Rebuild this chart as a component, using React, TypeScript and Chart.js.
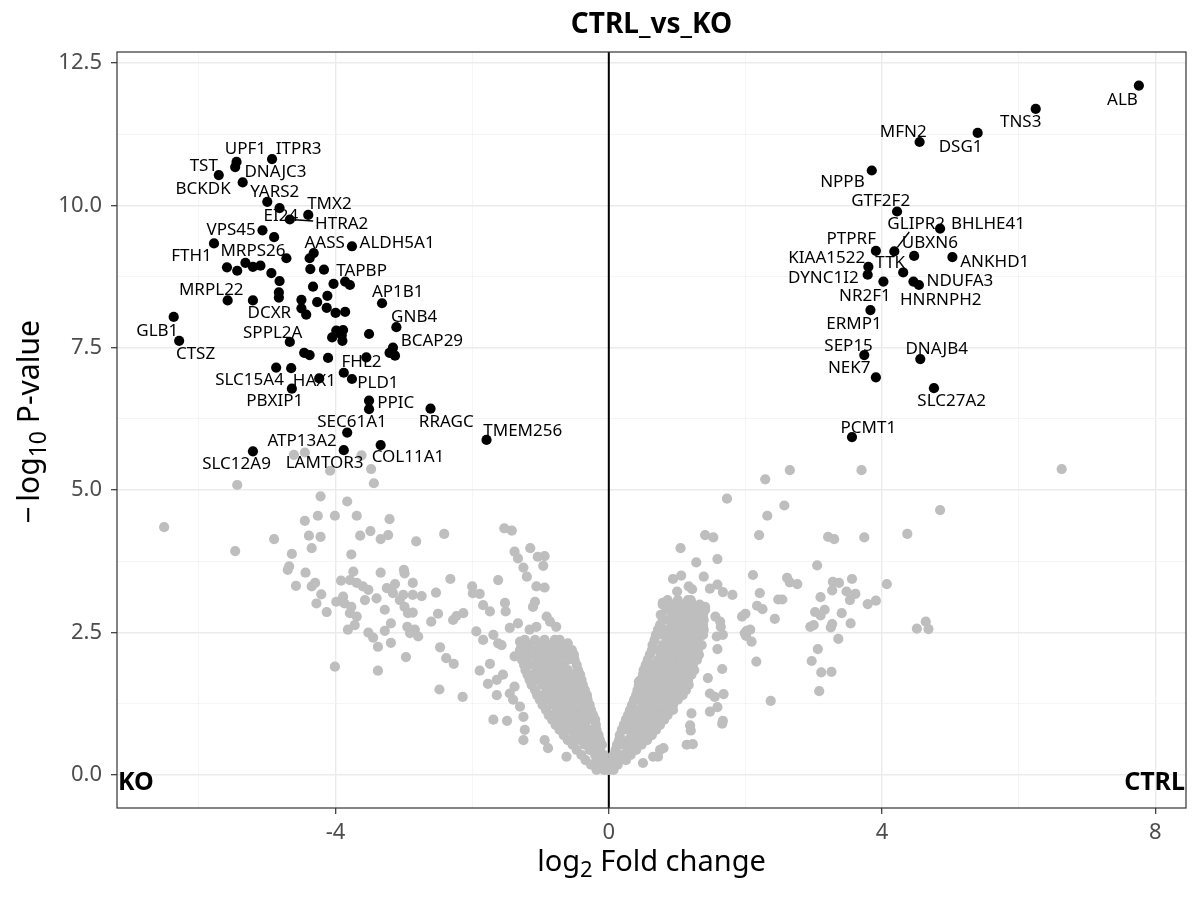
import React, { useEffect, useRef } from 'react';
import { Chart, registerables } from 'chart.js';

Chart.register(...registerables);

// ---------------- data ----------------
const plotTitle = 'CTRL_vs_KO';
const groupLeft = 'KO';
const groupRight = 'CTRL';
const xTickValues = [-4, 0, 4, 8];
const yTickValues = [0, 2.5, 5, 7.5, 10, 12.5];

// significant, labelled genes
const sigGene = [
  'ITPR3', 'UPF1', 'DNAJC3', 'TST', 'BCKDK', 'YARS2', 'EI24', 'HTRA2', 'TMX2', 'VPS45',
  'FTH1', 'MRPS26', 'ALDH5A1', 'AASS', 'TAPBP', 'MRPL22', 'DCXR', 'AP1B1', 'GLB1', 'GNB4',
  'SPPL2A', 'BCAP29', 'FHL2', 'CTSZ', 'SLC15A4', 'HAX1', 'PLD1', 'PBXIP1', 'PPIC', 'SEC61A1',
  'ATP13A2', 'LAMTOR3', 'SLC12A9', 'COL11A1', 'RRAGC', 'TMEM256',
  'ALB', 'TNS3', 'DSG1', 'MFN2', 'NPPB', 'GTF2F2', 'BHLHE41', 'GLIPR2', 'PTPRF', 'UBXN6',
  'ANKHD1', 'KIAA1522', 'DYNC1I2', 'TTK', 'NR2F1', 'NDUFA3', 'HNRNPH2', 'ERMP1', 'SEP15', 'NEK7',
  'DNAJB4', 'SLC27A2', 'PCMT1',
];
const sigLog2FC = [
  -4.93, -5.45, -5.47, -5.71, -5.36, -5.0, -4.82, -4.67, -4.4, -5.07,
  -5.78, -4.72, -3.76, -4.32, -4.17, -5.58, -4.5, -3.32, -6.37, -3.11,
  -4.67, -3.13, -3.55, -6.29, -4.87, -4.24, -3.76, -4.64, -3.51, -3.51,
  -3.83, -3.88, -5.21, -3.34, -2.61, -1.79,
  7.76, 6.25, 5.4, 4.55, 3.85, 4.22, 4.85, 4.18, 3.91, 4.47,
  5.03, 3.8, 3.79, 4.31, 4.02, 4.46, 4.54, 3.83, 3.74, 3.91,
  4.56, 4.76, 3.56,
];
const sigNegLog10P = [
  10.81, 10.76, 10.67, 10.53, 10.4, 10.06, 9.95, 9.75, 9.83, 9.56,
  9.33, 9.07, 9.28, 9.16, 8.87, 8.33, 8.19, 8.28, 8.04, 7.86,
  7.6, 7.36, 7.33, 7.62, 7.15, 6.96, 6.95, 6.78, 6.57, 6.42,
  6.01, 5.7, 5.68, 5.79, 6.43, 5.88,
  12.1, 11.69, 11.27, 11.11, 10.61, 9.89, 9.59, 9.19, 9.2, 9.11,
  9.09, 8.92, 8.78, 8.82, 8.66, 8.66, 8.6, 8.16, 7.37, 6.98,
  7.3, 6.79, 5.93,
];

// significant genes without a label
const sigOtherLog2FC = [
  -4.9, -4.38, -5.59, -5.44, -5.32, -5.21, -5.1, -4.94, -4.82, -4.37,
  -4.33, -4.03, -3.86, -3.79, -4.83, -4.83, -5.21, -4.5, -4.12, -4.27,
  -4.43, -4.13, -4.0, -3.86, -3.51, -3.99, -3.89, -4.05, -3.91, -3.9,
  -3.16, -3.21, -4.46, -4.38, -4.11, -4.65, -3.88,
];
const sigOtherNegLog10P = [
  9.44, 9.07, 8.91, 8.85, 8.99, 8.92, 8.94, 8.81, 8.67, 8.88,
  8.57, 8.62, 8.66, 8.6, 8.47, 8.38, 8.33, 8.34, 8.41, 8.3,
  8.08, 8.2, 8.11, 8.13, 7.74, 7.8, 7.81, 7.68, 7.72, 7.62,
  7.5, 7.41, 7.41, 7.37, 7.32, 7.14, 7.06,
];

// repelled label anchor (same order as sigGene)
const labelLog2FC = [
  -4.54, -5.32, -4.88, -5.93, -5.94, -4.89, -4.8, -3.91, -4.09, -5.53,
  -6.11, -5.21, -3.1, -4.16, -3.62, -5.82, -4.97, -3.09, -6.61, -2.85,
  -4.92, -2.59, -3.62, -6.05, -5.26, -4.31, -3.38, -4.89, -3.12, -3.76,
  -4.49, -4.16, -5.45, -2.94, -2.38, -1.26,
  7.52, 6.03, 5.15, 4.31, 3.42, 3.98, 5.55, 4.5, 3.55, 4.7,
  5.65, 3.19, 3.14, 4.12, 3.75, 5.14, 4.86, 3.59, 3.51, 3.52,
  4.8, 5.02, 3.8,
];
const labelNegLog10P = [
  11.01, 11.01, 10.6, 10.71, 10.3, 10.25, 9.83, 9.69, 10.04, 9.59,
  9.12, 9.22, 9.35, 9.35, 8.87, 8.53, 8.13, 8.49, 7.82, 8.05,
  7.78, 7.64, 7.26, 7.4, 6.95, 6.93, 6.89, 6.58, 6.55, 6.22,
  5.88, 5.49, 5.48, 5.6, 6.22, 6.06,
  11.87, 11.48, 11.04, 11.31, 10.42, 10.09, 9.69, 9.69, 9.42, 9.35,
  9.03, 9.09, 8.75, 9.01, 8.43, 8.69, 8.35, 7.94, 7.55, 7.17,
  7.49, 6.58, 6.11,
];
const labelWithSegment = ['HTRA2', 'GLIPR2'];

// non-significant genes: scattered ones [log2FC, -log10 P]
const nsScatter: [number, number][] = [
  [-6.51, 4.35], [-5.44, 5.09], [-5.47, 3.93], [-4.9, 4.14], [-4.61, 5.62], [-4.45, 5.66], [-4.08, 5.34], [-3.62, 5.61], [-3.48, 5.37], [-3.44, 5.12],
  [-4.22, 4.89], [-3.83, 4.8], [-4.45, 4.46], [-4.26, 4.55], [-4.01, 4.55], [-3.69, 4.55], [-3.21, 4.49], [-3.49, 4.28], [-3.64, 4.2], [-3.34, 4.14],
  [-3.23, 4.21], [-2.82, 4.1], [-2.41, 4.23], [-1.53, 4.33], [-1.42, 4.29], [-4.39, 4.2], [-4.22, 4.18], [-4.35, 3.98], [-4.64, 3.88], [-3.77, 3.87],
  [-4.68, 3.66], [-4.7, 3.6], [-4.44, 3.55], [-4.58, 3.32], [-4.35, 3.31], [-4.3, 3.37], [-4.21, 3.17], [-4.28, 3.01], [-4.13, 2.86], [-3.74, 3.57],
  [-3.92, 3.41], [-3.79, 3.42], [-3.69, 3.37], [-3.34, 3.55], [-3.0, 3.6], [-2.99, 3.54], [-2.32, 3.44], [-1.62, 3.42], [-1.38, 3.92], [-1.33, 3.8],
  [-1.25, 3.64], [-1.2, 3.48], [-1.15, 3.98], [-1.04, 3.83], [-0.94, 3.84], [-0.96, 3.67], [-1.06, 3.31], [-0.94, 3.29], [-3.6, 3.31], [-3.52, 3.25],
  [-3.57, 3.07], [-3.4, 3.1], [-3.25, 3.28], [-3.13, 3.35], [-3.16, 3.19], [-3.28, 2.9], [-3.99, 3.04], [-3.89, 3.13], [-3.87, 3.01], [-3.77, 2.95],
  [-3.79, 2.84], [-3.69, 2.78], [-3.82, 2.55], [-3.72, 2.63], [-3.01, 3.16], [-3.06, 3.07], [-2.99, 2.95], [-2.94, 2.84], [-2.87, 2.85], [-2.87, 3.16],
  [-2.74, 3.14], [-2.87, 3.37], [-2.53, 3.2], [-2.5, 2.83], [-2.6, 2.69], [-2.28, 2.72], [-2.13, 2.84], [-2.23, 2.79], [-2.0, 3.31], [-1.99, 3.19],
  [-1.89, 3.18], [-1.84, 2.98], [-1.74, 2.87], [-1.52, 3.02], [-1.51, 2.87], [-1.08, 3.04], [-1.11, 2.95], [-3.19, 2.66], [-3.28, 2.53], [-3.19, 2.32],
  [-3.52, 2.5], [-3.45, 2.41], [-3.38, 2.25], [-2.95, 2.6], [-2.91, 2.49], [-2.84, 2.55], [-2.79, 2.43], [-2.47, 2.24], [-2.38, 2.05], [-2.27, 1.95],
  [-1.94, 2.52], [-1.84, 2.37], [-1.69, 2.46], [-1.62, 2.31], [-1.45, 2.58], [-1.33, 2.66], [-1.3, 2.34], [-1.16, 2.55], [-1.06, 2.6], [-0.91, 2.78],
  [-0.86, 2.69], [-0.77, 2.6], [-0.6, 2.31], [-0.55, 2.11], [-2.97, 2.07], [-4.01, 1.9], [-3.38, 1.83], [-2.48, 1.5], [-2.14, 1.37], [-1.74, 1.95],
  [-1.89, 1.83], [-1.77, 1.6], [-1.64, 1.67], [-1.55, 1.76], [-1.64, 1.4], [-1.69, 0.97], [-1.49, 0.95], [-1.45, 1.43], [-1.4, 1.32], [-1.25, 0.61],
  [-1.23, 0.79], [-1.25, 1.02], [-1.3, 1.2], [-1.38, 2.08], [-1.28, 2.25], [-1.38, 1.55], [-0.94, 0.61], [-0.89, 0.47], [-0.62, 0.32], [-1.57, 2.28],
  [6.63, 5.37], [4.85, 4.65], [2.65, 5.35], [2.29, 5.19], [3.7, 5.35], [1.73, 4.85], [2.57, 4.73], [2.32, 4.55], [1.41, 4.21], [1.53, 4.17],
  [2.2, 4.21], [3.21, 4.18], [3.3, 4.14], [3.74, 4.17], [4.37, 4.23], [1.05, 3.98], [1.28, 3.73], [1.59, 3.79], [3.05, 3.68], [0.94, 3.44],
  [1.06, 3.5], [1.39, 3.48], [2.11, 3.51], [2.61, 3.46], [2.65, 3.38], [2.76, 3.35], [3.28, 3.39], [3.37, 3.37], [3.56, 3.44], [4.07, 3.35],
  [1.0, 3.22], [1.17, 3.31], [1.22, 3.26], [1.48, 3.27], [1.59, 3.34], [1.67, 3.21], [1.81, 3.16], [2.21, 3.19], [2.48, 3.08], [2.54, 3.08],
  [3.1, 3.12], [3.27, 3.24], [3.48, 3.22], [3.53, 3.07], [3.61, 3.18], [3.79, 3.0], [3.91, 3.06], [0.79, 3.02], [1.03, 3.0], [1.2, 3.07],
  [1.41, 2.95], [2.17, 2.97], [2.25, 2.91], [2.43, 2.74], [3.02, 2.86], [3.16, 2.9], [3.1, 2.8], [3.41, 2.84], [1.95, 2.78], [2.0, 2.83],
  [1.56, 2.78], [1.63, 2.69], [1.64, 2.6], [3.27, 2.65], [3.25, 2.59], [3.54, 2.66], [2.95, 2.6], [3.0, 2.63], [2.02, 2.53], [2.07, 2.55],
  [2.01, 2.44], [2.09, 2.34], [3.36, 2.39], [3.06, 2.21], [4.51, 2.57], [4.64, 2.69], [4.68, 2.56], [1.67, 2.46], [1.58, 2.43], [1.59, 2.21],
  [2.16, 1.99], [2.97, 2.0], [3.11, 1.8], [3.26, 1.81], [3.08, 1.47], [2.37, 1.3], [1.66, 1.86], [1.45, 1.7], [1.48, 1.43], [1.55, 1.37],
  [1.68, 1.42], [1.48, 1.11], [1.59, 1.19], [1.67, 0.95], [1.66, 0.9], [1.19, 0.87], [1.2, 0.78], [1.14, 0.53], [1.23, 0.54], [1.21, 1.08],
  [0.65, 0.32], [0.5, 0.21], [0.75, 0.44], [0.44, 1.64], [1.99, 2.49], [0.84, 2.9], [1.14, 2.9], [0.8, 0.47], [0.72, 0.32],
];

// non-significant genes: dense core near the origin, rows of [-log10 P, log2FC values]
const nsCoreRows: [number, number[]][] = [
  [2.37, [-1.23, -1.08, -0.94, -0.79, -0.72, 0.67, 0.86, 1.01, 1.16, 1.3]],
  [2.28, [-1.27, -1.16, -1.01, -0.86, -0.72, -0.64, 0.64, 0.79, 0.94, 1.08, 1.23, 1.36]],
  [2.19, [-1.3, -1.2, -1.05, -0.91, -0.76, -0.61, -0.54, 0.63, 0.72, 0.86, 1.01, 1.16, 1.3]],
  [2.11, [-1.3, -1.13, -0.98, -0.83, -0.69, -0.51, 0.6, 0.79, 0.94, 1.08, 1.23, 1.32]],
  [2.02, [-1.27, -1.19, -1.04, -0.89, -0.75, -0.6, -0.5, 0.57, 0.72, 0.86, 1.01, 1.16, 1.29]],
  [1.93, [-1.24, -1.11, -0.97, -0.82, -0.67, -0.47, 0.54, 0.64, 0.79, 0.94, 1.08, 1.23]],
  [1.84, [-1.22, -1.04, -0.89, -0.75, -0.6, -0.45, 0.51, 0.57, 0.72, 0.86, 1.01, 1.16, 1.25]],
  [1.76, [-1.19, -1.11, -0.97, -0.82, -0.67, -0.53, -0.42, 0.5, 0.64, 0.79, 0.94, 1.08, 1.21]],
  [1.67, [-1.16, -1.04, -0.89, -0.75, -0.6, -0.45, -0.4, 0.47, 0.57, 0.72, 0.86, 1.01, 1.16]],
  [1.58, [-1.13, -0.97, -0.82, -0.67, -0.53, -0.38, 0.44, 0.5, 0.64, 0.79, 0.94, 1.08, 1.17]],
  [1.49, [-1.08, -0.89, -0.75, -0.6, -0.45, -0.35, 0.42, 0.57, 0.72, 0.86, 1.01, 1.13]],
  [1.4, [-1.05, -0.97, -0.82, -0.67, -0.53, -0.38, -0.32, 0.4, 0.5, 0.64, 0.79, 0.94, 1.08]],
  [1.32, [-1.01, -0.89, -0.75, -0.6, -0.45, -0.31, 0.37, 0.42, 0.57, 0.72, 0.86, 1.01]],
  [1.23, [-0.97, -0.82, -0.67, -0.53, -0.38, -0.28, 0.34, 0.5, 0.64, 0.79, 0.94]],
  [1.14, [-0.92, -0.75, -0.6, -0.45, -0.34, -0.26, 0.31, 0.42, 0.57, 0.72, 0.86, 0.94]],
  [1.05, [-0.88, -0.82, -0.67, -0.53, -0.38, -0.23, 0.28, 0.35, 0.5, 0.64, 0.79, 0.86]],
  [0.97, [-0.83, -0.72, -0.57, -0.42, -0.31, -0.2, 0.25, 0.42, 0.57, 0.72, 0.81]],
  [0.88, [-0.78, -0.64, -0.5, -0.35, -0.19, 0.22, 0.35, 0.5, 0.64, 0.75]],
  [0.79, [-0.72, -0.57, -0.42, -0.28, -0.18, 0.19, 0.28, 0.42, 0.57, 0.69]],
  [0.7, [-0.66, -0.5, -0.35, -0.23, -0.15, 0.16, 0.35, 0.5, 0.63]],
  [0.61, [-0.6, -0.42, -0.28, -0.13, 0.15, 0.28, 0.42, 0.56]],
  [0.53, [-0.53, -0.35, -0.2, -0.1, 0.12, 0.2, 0.35, 0.48]],
  [0.44, [-0.47, -0.28, -0.13, 0.1, 0.28, 0.4]],
  [0.35, [-0.4, -0.2, -0.07, 0.07, 0.2, 0.32]],
  [0.26, [-0.34, -0.18, -0.06, 0.06, 0.15, 0.25]],
  [0.18, [-0.26, -0.13, -0.03, 0.03, 0.13]],
  [0.09, [-0.18, -0.07, -0.01, 0.01, 0.07]],
  [3.07, [0.86, 1.01, 1.16]],
  [2.99, [0.79, 0.94, 1.08, 1.23, 1.33]],
  [2.9, [0.86, 1.01, 1.16, 1.3, 1.41]],
  [2.81, [0.76, 0.94, 1.08, 1.23, 1.38]],
  [2.72, [0.79, 0.86, 1.01, 1.16, 1.3, 1.39]],
  [2.63, [0.75, 0.94, 1.08, 1.23, 1.38]],
  [2.55, [0.72, 0.86, 1.01, 1.16, 1.3, 1.39]],
  [2.46, [0.69, 0.79, 0.94, 1.08, 1.23, 1.38]],
];

// ---------------- drawing helpers ----------------
const FONT = '"Noto Sans", "Open Sans", "DejaVu Sans", sans-serif';

type Part = { text: string; size: number; dy: number };

function drawRich(ctx: CanvasRenderingContext2D, parts: Part[], cx: number, baseline: number) {
  const widths = parts.map((p) => {
    ctx.font = `${p.size}px ${FONT}`;
    return ctx.measureText(p.text).width;
  });
  const total = widths.reduce((a, b) => a + b, 0);
  let xx = cx - total / 2;
  ctx.textAlign = 'left';
  ctx.textBaseline = 'alphabetic';
  parts.forEach((p, i) => {
    ctx.font = `${p.size}px ${FONT}`;
    ctx.fillText(p.text, xx, baseline + p.dy);
    xx += widths[i];
  });
}

const isMultiple = (v: number, list: number[]) => list.some((t) => Math.abs(t - v) < 1e-6);

const volcanoDecor = {
  id: 'volcanoDecor',
  beforeDatasetsDraw(chart: any) {
    const { ctx, chartArea: a, scales } = chart;
    const x0 = scales.x.getPixelForValue(0);
    ctx.save();
    ctx.strokeStyle = '#000000';
    ctx.lineWidth = 2;
    ctx.beginPath();
    ctx.moveTo(x0, a.top);
    ctx.lineTo(x0, a.bottom);
    ctx.stroke();
    ctx.restore();
  },
  afterDatasetsDraw(chart: any) {
    const { ctx, scales } = chart;
    const xs = scales.x;
    const ys = scales.y;
    const size = 17;
    const cap = size * 0.714;
    ctx.save();
    ctx.font = `${size}px ${FONT}`;
    ctx.fillStyle = '#000000';
    ctx.strokeStyle = '#000000';
    ctx.lineWidth = 1.4;
    ctx.textAlign = 'center';
    ctx.textBaseline = 'alphabetic';
    sigGene.forEach((g, i) => {
      const lx = xs.getPixelForValue(labelLog2FC[i]);
      const ly = ys.getPixelForValue(labelNegLog10P[i]);
      if (labelWithSegment.includes(g)) {
        const px = xs.getPixelForValue(sigLog2FC[i]);
        const py = ys.getPixelForValue(sigNegLog10P[i]);
        const w = ctx.measureText(g).width;
        const hw = w / 2 + 2;
        const hh = cap / 2 + 3;
        const dx = lx - px;
        const dy = ly - py;
        const len = Math.hypot(dx, dy);
        const tx = Math.abs(dx) > 0 ? 1 - hw / Math.abs(dx) : -1;
        const ty = Math.abs(dy) > 0 ? 1 - hh / Math.abs(dy) : -1;
        const t1 = Math.max(0, Math.min(1, Math.max(tx, ty)));
        const t0 = 5 / len;
        if (t1 > t0) {
          ctx.beginPath();
          ctx.moveTo(px + dx * t0, py + dy * t0);
          ctx.lineTo(px + dx * t1, py + dy * t1);
          ctx.stroke();
        }
      }
      ctx.fillText(g, lx, ly + cap / 2);
    });
    ctx.restore();
  },
  afterDraw(chart: any) {
    const { ctx, chartArea: a, scales } = chart;
    const cx = (a.left + a.right) / 2;
    ctx.save();
    // panel border
    ctx.strokeStyle = '#333333';
    ctx.lineWidth = 1.2;
    ctx.strokeRect(a.left, a.top, a.right - a.left, a.bottom - a.top);

    ctx.fillStyle = '#000000';
    // title
    ctx.font = `bold 28px ${FONT}`;
    ctx.textAlign = 'center';
    ctx.textBaseline = 'alphabetic';
    ctx.fillText(plotTitle, cx, 33);

    // group corner labels
    const y0 = scales.y.getPixelForValue(0);
    ctx.font = `bold 25px ${FONT}`;
    ctx.textAlign = 'left';
    ctx.fillText(groupLeft, a.left + 1, y0 + 15);
    ctx.textAlign = 'right';
    ctx.fillText(groupRight, a.right - 1, y0 + 15);

    // x axis title
    drawRich(ctx, [
      { text: 'log', size: 29, dy: 0 },
      { text: '2', size: 22, dy: 6 },
      { text: ' Fold change', size: 29, dy: 0 },
    ], cx, 871);

    // y axis title
    ctx.translate(39, (a.top + a.bottom) / 2 - 8);
    ctx.rotate(-Math.PI / 2);
    drawRich(ctx, [
      { text: '\u2212\u2009log', size: 30, dy: 0 },
      { text: '10', size: 23, dy: 7 },
      { text: ' P-value', size: 30, dy: 0 },
    ], 0, 0);
    ctx.restore();
  },
};

export default function App() {
  const ref = useRef<HTMLCanvasElement | null>(null);

  useEffect(() => {
    if (!ref.current) return;
    const grayData = [
      ...nsScatter.map(([x, y]) => ({ x, y })),
      ...nsCoreRows.flatMap(([y, xsRow]) => xsRow.map((x) => ({ x, y }))),
    ];
    const sigData = [
      ...sigGene.map((_, i) => ({ x: sigLog2FC[i], y: sigNegLog10P[i] })),
      ...sigOtherLog2FC.map((x, i) => ({ x, y: sigOtherNegLog10P[i] })),
    ];
    const majorX = (v: number) => isMultiple(v, xTickValues);
    const majorY = (v: number) => isMultiple(v, yTickValues);

    const chart = new Chart(ref.current, {
      type: 'scatter',
      data: {
        datasets: [
          {
            label: 'significant',
            data: sigData,
            backgroundColor: '#000000',
            borderWidth: 0,
            pointRadius: 5.1,
            pointHoverRadius: 5.1,
            order: 0,
          },
          {
            label: 'not significant',
            data: grayData,
            backgroundColor: '#BEBEBE',
            borderWidth: 0,
            pointRadius: 5.1,
            pointHoverRadius: 5.1,
            order: 1,
          },
        ],
      },
      options: {
        animation: false,
        responsive: false,
        devicePixelRatio: 1,
        events: [],
        layout: { padding: { top: 52, right: 14, left: 0, bottom: 0 } },
        plugins: {
          legend: { display: false },
          tooltip: { enabled: false },
          title: { display: false },
        },
        scales: {
          x: {
            type: 'linear',
            min: -7.2,
            max: 8.45,
            afterFit: (s: any) => {
              s.height = 92;
            },
            border: { display: false },
            grid: {
              color: (c: any) => (c.tick && majorX(c.tick.value) ? '#EBEBEB' : '#F2F2F2'),
              lineWidth: (c: any) => (c.tick && majorX(c.tick.value) ? 1.4 : 0.8),
              tickColor: (c: any) => (c.tick && majorX(c.tick.value) ? '#333333' : 'rgba(0,0,0,0)'),
              tickLength: 6,
              tickWidth: 1.2,
            },
            ticks: {
              stepSize: 2,
              includeBounds: false,
              autoSkip: false,
              maxRotation: 0,
              padding: 6,
              color: '#4D4D4D',
              font: { family: FONT, size: 22 },
              callback: (v: any) => (majorX(Number(v)) ? String(v) : ''),
            },
          },
          y: {
            type: 'linear',
            min: -0.58,
            max: 12.69,
            afterFit: (s: any) => {
              s.width = 117;
            },
            border: { display: false },
            grid: {
              color: (c: any) => (c.tick && majorY(c.tick.value) ? '#EBEBEB' : '#F2F2F2'),
              lineWidth: (c: any) => (c.tick && majorY(c.tick.value) ? 1.4 : 0.8),
              tickColor: (c: any) => (c.tick && majorY(c.tick.value) ? '#333333' : 'rgba(0,0,0,0)'),
              tickLength: 6,
              tickWidth: 1.2,
            },
            ticks: {
              stepSize: 1.25,
              includeBounds: false,
              autoSkip: false,
              padding: 9,
              color: '#4D4D4D',
              font: { family: FONT, size: 22 },
              callback: (v: any) => (majorY(Number(v)) ? Number(v).toFixed(1) : ''),
            },
          },
        },
      },
      plugins: [volcanoDecor],
    } as any);

    return () => chart.destroy();
  }, []);

  return (
    <div style={{ position: 'absolute', left: 0, top: 0, width: 1200, height: 900, background: '#ffffff' }}>
      <canvas ref={ref} width={1200} height={900} style={{ display: 'block', width: 1200, height: 900 }} />
    </div>
  );
}
